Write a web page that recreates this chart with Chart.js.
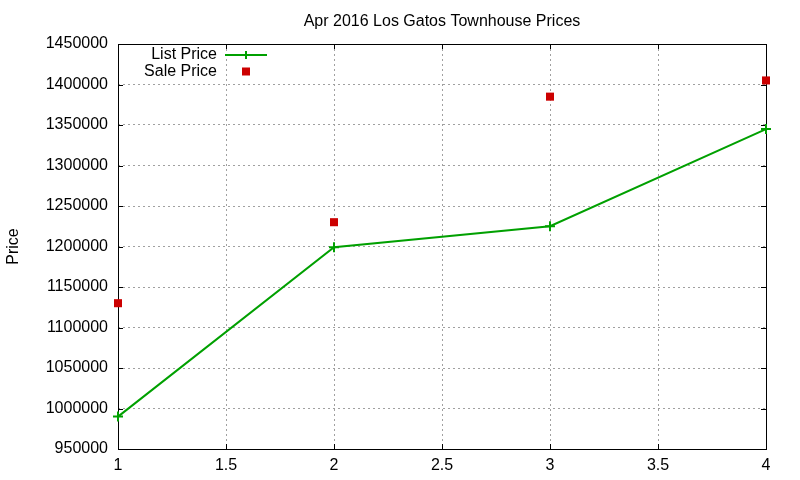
<!DOCTYPE html>
<html>
<head>
<meta charset="utf-8">
<script src="https://cdn.jsdelivr.net/npm/chart.js@4"></script>
<style>
    html, body { margin: 0; padding: 0; background: #fff; }
    #wrap { width: 800px; height: 480px; }
</style>
</head>
<body>
<div id="wrap"><canvas id="price-chart" width="800" height="480"></canvas></div>
<script>
// Data
const months = [1, 2, 3, 4];
const listPrices = [990000, 1199000, 1225000, 1345000];
const salePrices = [1130000, 1230000, 1385000, 1405000];

const FONT = 'Liberation Sans, Arial, sans-serif';

/**
 * Box border + inward tick marks (gnuplot style)
 */
const frameBox = {
    id: 'frameBox',
    beforeDatasetsDraw(chart) {
        const { ctx, chartArea: a, scales } = chart;
        ctx.save();
        ctx.strokeStyle = '#000';
        ctx.lineWidth = 1;
        ctx.beginPath();
        scales.x.ticks.forEach(t => {
            const px = Math.round(scales.x.getPixelForValue(t.value)) + 0.5;
            ctx.moveTo(px, a.bottom); ctx.lineTo(px, a.bottom - 5);
            ctx.moveTo(px, a.top); ctx.lineTo(px, a.top + 5);
        });
        scales.y.ticks.forEach(t => {
            const py = Math.round(scales.y.getPixelForValue(t.value)) + 0.5;
            ctx.moveTo(a.left, py); ctx.lineTo(a.left + 5, py);
            ctx.moveTo(a.right, py); ctx.lineTo(a.right - 5, py);
        });
        ctx.stroke();
        ctx.strokeRect(Math.round(a.left) + 0.5, Math.round(a.top) + 0.5,
            Math.round(a.right - a.left), Math.round(a.bottom - a.top));
        ctx.restore();
    }
};

/**
 * Legend inside the plot, text right aligned with sample on the right
 */
const insideLegend = {
    id: 'insideLegend',
    afterDraw(chart) {
        const { ctx } = chart;
        ctx.save();
        ctx.font = '16px ' + FONT;
        ctx.textAlign = 'right';
        ctx.textBaseline = 'middle';
        chart.data.datasets.forEach((ds, i) => {
            const y = 55 + i * 16.5;
            ctx.fillStyle = '#000';
            ctx.fillText(ds.label, 217, y);
            if (ds.showLine !== false) {
                ctx.strokeStyle = ds.borderColor;
                ctx.lineWidth = 2;
                ctx.beginPath();
                ctx.moveTo(225, y); ctx.lineTo(267, y);
                ctx.moveTo(246, y - 4); ctx.lineTo(246, y + 4);
                ctx.stroke();
            } else {
                ctx.fillStyle = ds.backgroundColor;
                ctx.fillRect(242, y - 4, 8, 8);
            }
        });
        ctx.restore();
    }
};

document.addEventListener('DOMContentLoaded', () => {
    const ctx = document.getElementById('price-chart');
    new Chart(ctx, {
        type: 'scatter',
        data: {
            datasets: [{
                label: 'List Price',
                data: months.map((m, i) => ({ x: m, y: listPrices[i] })),
                showLine: true,
                clip: false,
                borderColor: '#00a000',
                backgroundColor: '#00a000',
                borderWidth: 2,
                pointStyle: 'cross',
                pointRadius: 5,
                pointBorderWidth: 2,
                pointHoverRadius: 5
            }, {
                label: 'Sale Price',
                data: months.map((m, i) => ({ x: m, y: salePrices[i] })),
                showLine: false,
                clip: false,
                borderColor: '#cc0000',
                backgroundColor: '#cc0000',
                pointStyle: 'rect',
                pointRadius: 5.7,
                pointBorderWidth: 0,
                pointHoverRadius: 5.7
            }]
        },
        options: {
            responsive: false,
            animation: false,
            layout: { padding: { left: 0, right: 34, top: 0, bottom: 0 } },
            plugins: {
                legend: { display: false },
                tooltip: { enabled: false },
                title: {
                    display: true,
                    text: 'Apr 2016 Los Gatos Townhouse Prices',
                    color: '#000',
                    fullSize: false,
                    font: { family: FONT, size: 16, weight: 'normal' },
                    padding: { top: 12, bottom: 12.8 }
                }
            },
            scales: {
                x: {
                    type: 'linear',
                    min: 1,
                    max: 4,
                    ticks: {
                        stepSize: 0.5,
                        color: '#000',
                        padding: 7,
                        maxRotation: 0,
                        font: { family: FONT, size: 16 },
                        callback: v => String(v)
                    },
                    grid: {
                        color: '#a0a0a0',
                        drawTicks: false
                    },
                    border: { display: false, dash: [2, 3] },
                    afterFit: s => { s.height = 31; }
                },
                y: {
                    min: 950000,
                    max: 1450000,
                    ticks: {
                        stepSize: 50000,
                        color: '#000',
                        padding: 10,
                        font: { family: FONT, size: 16 },
                        callback: v => String(v)
                    },
                    grid: {
                        color: '#a0a0a0',
                        drawTicks: false
                    },
                    border: { display: false, dash: [2, 3] },
                    title: {
                        display: true,
                        text: 'Price',
                        color: '#000',
                        font: { family: FONT, size: 16 },
                        padding: { top: 4, bottom: 0 }
                    },
                    afterFit: s => { s.width = 118; }
                }
            }
        },
        plugins: [frameBox, insideLegend]
    });
});
</script>
</body>
</html>
